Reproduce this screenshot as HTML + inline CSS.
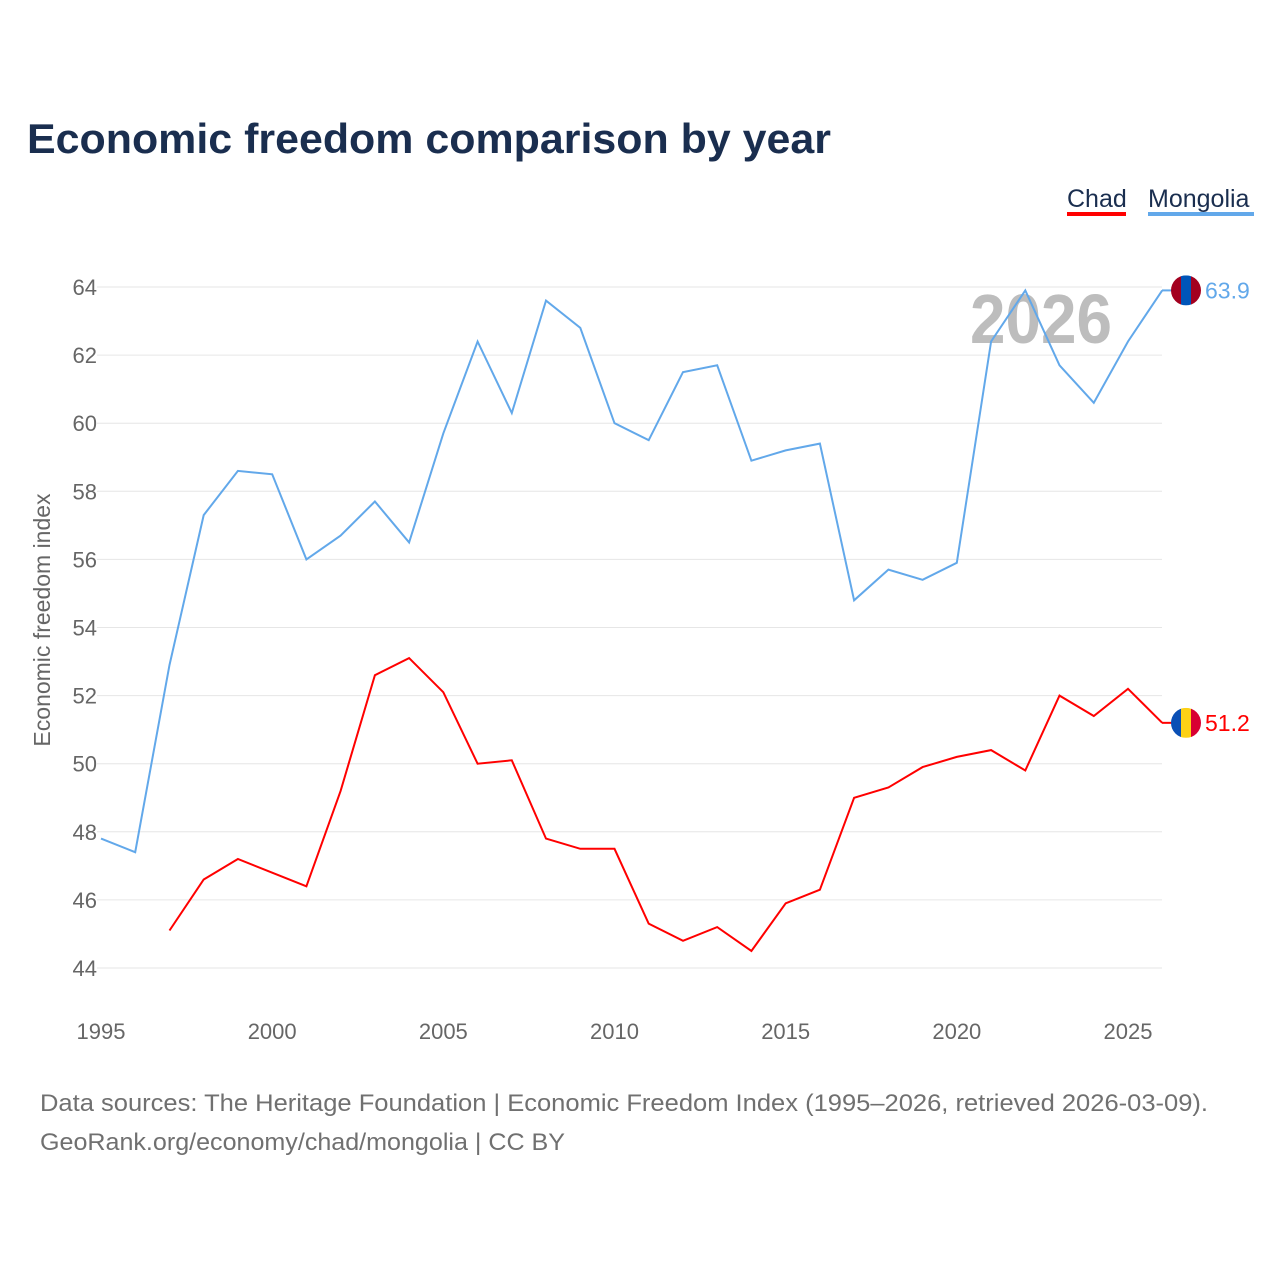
<!DOCTYPE html>
<html><head><meta charset="utf-8">
<style>
body{margin:0;background:#fff;}
svg text{font-family:"Liberation Sans",sans-serif;}
</style></head>
<body>
<svg id="chart" width="1280" height="1280" viewBox="0 0 1280 1280" xmlns="http://www.w3.org/2000/svg">
<text x="27" y="153" font-size="42" font-weight="bold" fill="#1a2e4f" textLength="804" lengthAdjust="spacingAndGlyphs">Economic freedom comparison by year</text>
<g>
<text x="1067" y="207" font-size="25" fill="#1a2e4f">Chad</text>
<rect x="1067" y="212" width="59" height="4" fill="#ff0000"/>
<text x="1148" y="207" font-size="25" fill="#1a2e4f">Mongolia</text>
<rect x="1148" y="212" width="106" height="4" fill="#62a8ea"/>
</g>
<text x="970" y="343" font-size="70" font-weight="bold" fill="#bdbdbd" textLength="142" lengthAdjust="spacingAndGlyphs">2026</text>
<g id="grid"></g>
<g id="xaxis"></g>
<text transform="translate(50,620) rotate(-90)" font-size="23" fill="#666" text-anchor="middle">Economic freedom index</text>
<g id="series"></g>
<g id="ends"></g>
<text x="40" y="1111" font-size="24" fill="#707070" textLength="1168" lengthAdjust="spacingAndGlyphs">Data sources: The Heritage Foundation | Economic Freedom Index (1995–2026, retrieved 2026-03-09).</text>
<text x="40" y="1150" font-size="24" fill="#707070" textLength="525" lengthAdjust="spacingAndGlyphs">GeoRank.org/economy/chad/mongolia | CC BY</text>
</svg>
<script>
const years=[1995,1996,1997,1998,1999,2000,2001,2002,2003,2004,2005,2006,2007,2008,2009,2010,2011,2012,2013,2014,2015,2016,2017,2018,2019,2020,2021,2022,2023,2024,2025,2026];
const mongolia=[47.8,47.4,52.9,57.3,58.6,58.5,56.0,56.7,57.7,56.5,59.7,62.4,60.3,63.6,62.8,60.0,59.5,61.5,61.7,58.9,59.2,59.4,54.8,55.7,55.4,55.9,62.4,63.9,61.7,60.6,62.4,63.9];
const chad=[null,null,45.1,46.6,47.2,46.8,46.4,49.2,52.6,53.1,52.1,50.0,50.1,47.8,47.5,47.5,45.3,44.8,45.2,44.5,45.9,46.3,49.0,49.3,49.9,50.2,50.4,49.8,52.0,51.4,52.2,51.2];
const yTicks=[44,46,48,50,52,54,56,58,60,62,64];
const xTicks=[1995,2000,2005,2010,2015,2020,2025];
const NS="http://www.w3.org/2000/svg";
const x=v=>101+(v-1995)*(1027/30);
const y=v=>287+(64-v)*34.05;
function mk(tag,attrs,parent){const e=document.createElementNS(NS,tag);for(const k in attrs)e.setAttribute(k,attrs[k]);parent.appendChild(e);return e;}
const grid=document.getElementById('grid');
yTicks.forEach(t=>{
  const l=mk('line',{x1:97,x2:1162,y1:y(t),y2:y(t),stroke:'#e6e6e6','stroke-width':1},grid);
  
  
  const tx=mk('text',{x:97,y:y(t)+8,'font-size':22,fill:'#666','text-anchor':'end'},grid);
  tx.textContent=t;
  
  
});
const xa=document.getElementById('xaxis');
xTicks.forEach(t=>{
  const tx=mk('text',{x:x(t),y:1039,'font-size':22,fill:'#666','text-anchor':'middle'},xa);
  tx.textContent=t;
  
  
});
function path(vals){let d='';let pen=false;vals.forEach((v,i)=>{if(v==null){pen=false;return;}d+=(pen?'L':'M')+x(years[i]).toFixed(1)+','+y(v).toFixed(1);pen=true;});return d;}
const sg=document.getElementById('series');
const pm=mk('path',{d:path(mongolia),fill:'none',stroke:'#62a8ea','stroke-width':2},sg);


const pc=mk('path',{d:path(chad),fill:'none',stroke:'#ff0000','stroke-width':2},sg);


const ends=document.getElementById('ends');
function endLabel(vals,color,stripes,name){
  const v=vals[vals.length-1];const cy=y(v);const cx=1186;
  const ln=mk('line',{x1:1162,x2:1172,y1:cy,y2:cy,stroke:color,'stroke-width':2},ends);
  
  
  const g=mk('g',{},ends);
  
  
  const cid='clip-'+name;
  const cp=mk('clipPath',{id:cid},g);mk('circle',{cx:cx,cy:cy,r:15},cp);
  const w=30/3;
  stripes.forEach((c,i)=>{mk('rect',{x:cx-15+i*w,y:cy-15,width:w+0.5,height:30,fill:c,'clip-path':'url(#'+cid+')'},g);});
  const t=mk('text',{x:1205,y:cy+8,'font-size':23,fill:color},ends);
  t.textContent=v.toFixed(1);
  
  
}
endLabel(mongolia,'#62a8ea',['#a3001f','#0055b8','#a3001f'],'mongolia');
endLabel(chad,'#ff0000',['#0a4fb5','#fdd116','#d80032'],'chad');
</script>
</body></html>
